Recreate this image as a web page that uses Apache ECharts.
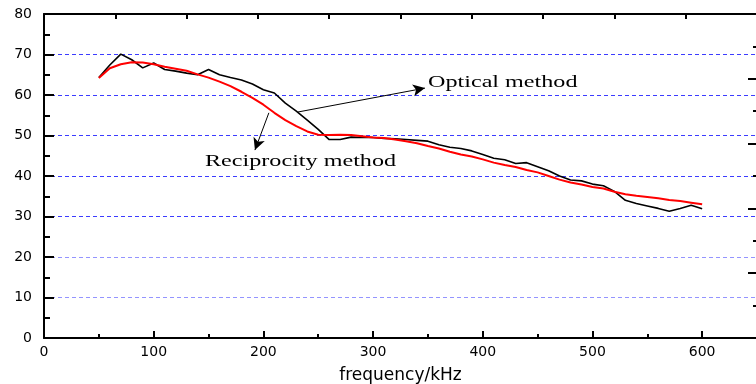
<!DOCTYPE html>
<html>
<head>
<meta charset="utf-8">
<script src="https://cdn.jsdelivr.net/npm/echarts@6/dist/echarts.min.js"></script>
<style>
  html, body { margin: 0; padding: 0; background: #fff; }
  #chart { width: 756px; height: 384px; }
</style>
</head>
<body>
<div id="chart"></div>
<script>
// frequency in kHz, sampled every 10 kHz
const freq = [50, 60, 70, 80, 90, 100, 110, 120, 130, 140, 150, 160, 170, 180, 190, 200,
    210, 220, 230, 240, 250, 260, 270, 280, 290, 300, 310, 320, 330, 340, 350, 360, 370,
    380, 390, 400, 410, 420, 430, 440, 450, 460, 470, 480, 490, 500, 510, 520, 530, 540,
    550, 560, 570, 580, 590, 600];
// optical method (black)
const optical = [64.3, 67.4, 70.1, 68.7, 66.7, 67.9, 66.3, 65.9, 65.4, 65.0, 66.3, 65.0,
    64.3, 63.7, 62.7, 61.3, 60.5, 58.0, 56.0, 53.8, 51.5, 49.0, 49.0, 49.6, 49.5, 49.5,
    49.3, 49.2, 49.0, 48.8, 48.6, 47.7, 47.1, 46.8, 46.2, 45.3, 44.4, 44.0, 43.1, 43.3,
    42.3, 41.3, 40.0, 39.0, 38.8, 38.0, 37.6, 36.2, 34.0, 33.2, 32.6, 32.0, 31.3, 32.0,
    32.8, 31.9];
// reciprocity method (red)
const reciprocity = [64.2, 66.6, 67.6, 68.1, 68.0, 67.6, 67.0, 66.5, 66.0, 65.1, 64.3,
    63.3, 62.2, 60.8, 59.3, 57.6, 55.6, 53.8, 52.3, 51.0, 50.2, 50.1, 50.2, 50.1, 49.8,
    49.5, 49.4, 49.0, 48.6, 48.1, 47.4, 46.8, 46.0, 45.3, 44.8, 44.1, 43.3, 42.7, 42.2,
    41.5, 40.9, 40.0, 39.1, 38.4, 37.9, 37.3, 36.9, 36.1, 35.5, 35.1, 34.8, 34.5, 34.1,
    33.8, 33.4, 33.0];
const xName = 'frequency/kHz';
const labelOptical = 'Optical method';
const labelRecip = 'Reciprocity method';
// annotation arrows, [from, to] in data units
const arrowOptical = [[231.5, 55.8], [347.3, 61.7]];
const arrowRecip = [[205, 55.6], [192.3, 46.4]];

const chart = echarts.init(document.getElementById('chart'));
const blue = '#3c3cff';
const paleBlue = '#9494ff';
const black = '#000';

const option = {
    backgroundColor: '#fff',
    animation: false,
    grid: { left: 44, top: 14, bottom: 46, width: 713, outerBoundsMode: 'none', containLabel: false },
    xAxis: [
        {
            type: 'value',
            min: 0,
            max: 650,
            interval: 100,
            name: xName,
            nameLocation: 'middle',
            nameGap: 29,
            nameTextStyle: { fontFamily: 'DejaVu Sans', fontSize: 17, color: black },
            axisLine: { show: true, onZero: false, lineStyle: { color: black, width: 2 } },
            axisTick: { show: true, inside: true, length: 7, lineStyle: { color: black, width: 2 } },
            minorTick: { show: true, splitNumber: 2, length: 4, lineStyle: { color: black, width: 2 } },
            axisLabel: { margin: 7, showMaxLabel: false, fontFamily: 'DejaVu Sans', fontSize: 14, color: black },
            splitLine: { show: false }
        },
        {
            // frame on top
            type: 'value',
            position: 'top',
            min: 0,
            max: 10,
            interval: 1,
            axisLine: { show: true, onZero: false, lineStyle: { color: black, width: 2 } },
            axisTick: { show: true, inside: true, length: 5, lineStyle: { color: black, width: 2 } },
            axisLabel: { show: false },
            splitLine: { show: false }
        }
    ],
    yAxis: [
        {
            type: 'value',
            min: 0,
            max: 80,
            interval: 10,
            axisLine: { show: true, onZero: false, lineStyle: { color: black, width: 2 } },
            axisTick: { show: true, inside: true, length: 10, lineStyle: { color: black, width: 2 } },
            minorTick: { show: true, splitNumber: 2, length: 6, lineStyle: { color: black, width: 2 } },
            axisLabel: { margin: 12, fontFamily: 'DejaVu Sans', fontSize: 14, color: black },
            splitLine: {
                show: true,
                lineStyle: {
                    color: ['transparent', paleBlue, paleBlue, blue, blue, blue, blue, blue, 'transparent'],
                    type: [4, 3],
                    width: 1
                }
            }
        },
        {
            // frame on the right
            type: 'value',
            position: 'right',
            min: 0,
            max: 5,
            interval: 1,
            axisLine: { show: true, onZero: false, lineStyle: { color: black, width: 2 } },
            axisTick: { show: true, inside: true, length: 9, lineStyle: { color: black, width: 2 } },
            minorTick: { show: true, splitNumber: 2, length: 4, lineStyle: { color: black, width: 2 } },
            axisLabel: { show: false },
            splitLine: { show: false }
        }
    ],
    series: [
        {
            name: labelOptical,
            type: 'line',
            showSymbol: false,
            data: freq.map((f, i) => [f, optical[i]]),
            lineStyle: { color: black, width: 1.6 },
            itemStyle: { color: black },
            markLine: {
                silent: true,
                symbol: ['none', 'arrow'],
                symbolSize: [9, 12],
                label: { show: false },
                lineStyle: { color: black, width: 1, type: 'solid' },
                emphasis: { disabled: true },
                data: [
                    [{ coord: arrowOptical[0] }, { coord: arrowOptical[1] }],
                    [{ coord: arrowRecip[0] }, { coord: arrowRecip[1] }]
                ]
            }
        },
        {
            name: labelRecip,
            type: 'line',
            showSymbol: false,
            data: freq.map((f, i) => [f, reciprocity[i]]),
            lineStyle: { color: '#ff0000', width: 2 },
            itemStyle: { color: '#ff0000' }
        }
    ],
    graphic: [
        {
            type: 'text',
            x: 428,
            y: 83,
            scaleX: 1.42,
            silent: true,
            style: { text: labelOptical, font: '17px "Liberation Serif"', fill: black, verticalAlign: 'middle' }
        },
        {
            type: 'text',
            x: 205,
            y: 162,
            scaleX: 1.42,
            silent: true,
            style: { text: labelRecip, font: '17px "Liberation Serif"', fill: black, verticalAlign: 'middle' }
        }
    ]
};

chart.setOption(option);
</script>
</body>
</html>
